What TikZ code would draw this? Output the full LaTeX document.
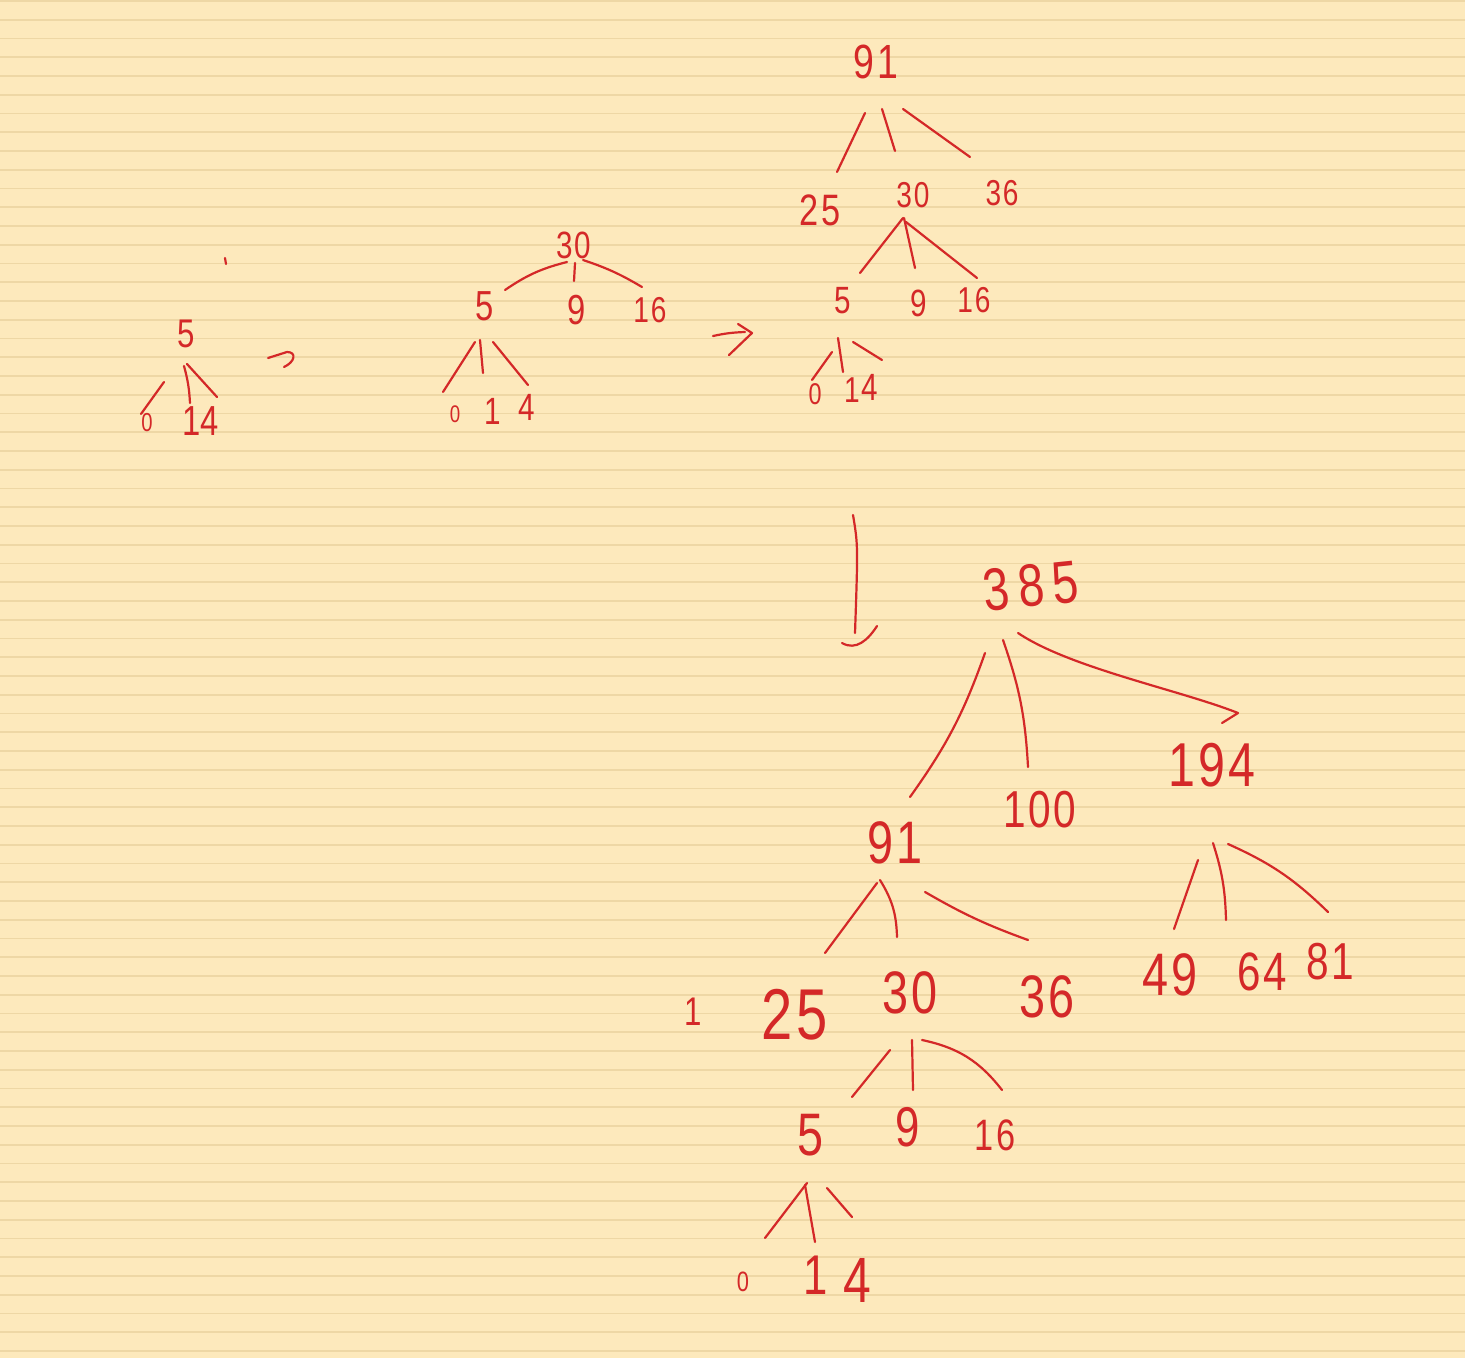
\documentclass[tikz,border=0pt]{standalone}
\usepackage{fontspec}
\newfontfamily\hand[FakeStretch=0.78,LetterSpace=5]{Liberation Sans}
\newfontfamily\handwide[FakeStretch=0.78,LetterSpace=14]{Liberation Sans}
\usetikzlibrary{calc}
\definecolor{paper}{RGB}{253,233,188}
\definecolor{rulecol}{RGB}{238,215,165}
\definecolor{ink}{RGB}{212,40,40}
\begin{document}
\begin{tikzpicture}[x=0.5pt,y=-0.5pt,
  fs/.style={font=\hand\fontsize{#1}{#1}\selectfont},
  num/.style={text=ink,inner sep=0pt},
  edge/.style={draw=ink,line width=1.1pt,line cap=round,line join=round}]
\fill[paper] (0,0) rectangle (1465,1358);
\useasboundingbox (0,0) rectangle (1465,1358);
\foreach \k in {0,...,72} \draw[rulecol,line width=0.8pt] (0,{1+18.75*\k}) -- (1465,{1+18.75*\k});

% ---------- tree 1 ----------
\node[num,fs=20] (a5) at (186,334) {5};
\node[num,fs=13] (a0) at (147,423) {0};
\node[num,fs=21] (a1) at (192,421) {1};
\node[num,fs=21] (a4) at (210,421) {4};
\draw[edge] ($(a5)+(-22,48)$) -- ($(a0)+(-6,-9)$);
\draw[edge] ($(a5)+(-2,32)$) to[bend left=6] ($(a1)+(-2,-18)$);
\draw[edge] ($(a5)+(1,30)$) -- ($(a4)+(7,-24)$);
\coordinate (tk1) at (225,258);
\coordinate (tk2) at (226,264);
\draw[edge] (tk1) -- (tk2);

% arrow 1
\coordinate (r1a) at (268,358);
\coordinate (r1b) at (287,352);
\coordinate (r1c) at (284,367);
\draw[edge] (r1a) -- (r1b) .. controls (297,352) and (295,362) .. (r1c);

% ---------- tree 2 ----------
\node[num,fs=19] (b30) at (574,245) {30};
\node[num,fs=21] (b5) at (485,306) {5};
\node[num,fs=21] (b9) at (577,310) {9};
\node[num,fs=18] (b16) at (650,310) {16};
\node[num,fs=12] (b0) at (455,414) {0};
\node[num,fs=19] (b1) at (493,411) {1};
\node[num,fs=19] (b4) at (527,407) {4};
\draw[edge] ($(b30)+(-7,17)$) to[bend right=10] ($(b5)+(20,-16)$);
\draw[edge] ($(b30)+(1,18)$) -- ($(b9)+(-3,-29)$);
\draw[edge] ($(b30)+(9,15)$) to[bend left=6] ($(b16)+(-8,-23)$);
\draw[edge] ($(b5)+(-10,36)$) -- ($(b0)+(-12,-22)$);
\draw[edge] ($(b5)+(-5,34)$) -- ($(b1)+(-10,-38)$);
\draw[edge] ($(b5)+(8,36)$) -- ($(b4)+(1,-22)$);

% arrow 2
\coordinate (r2a) at (713,336);
\coordinate (r2b) at (745,332);
\coordinate (r2c) at (738,324);
\coordinate (r2d) at (752,333);
\coordinate (r2e) at (729,355);
\draw[edge] (r2a) to[bend left=5] (r2b);
\draw[edge] (r2c) -- (r2d) -- (r2e);

% ---------- tree 3 ----------
\node[num,fs=24] (c91) at (876,62) {91};
\node[num,fs=22] (c25) at (820,210) {25};
\node[num,fs=18] (c30) at (913,195) {30};
\node[num,fs=18] (c36) at (1002,193) {36};
\node[num,fs=19] (c5) at (843,301) {5};
\node[num,fs=19] (c9) at (919,303) {9};
\node[num,fs=18] (c16) at (974,300) {16};
\node[num,fs=15] (c0) at (815,394) {0};
\node[num,fs=18] (c1) at (852,390) {1};
\node[num,fs=19] (c4) at (870,387) {4};
\draw[edge] ($(c91)+(-11,51)$) -- ($(c25)+(17,-38)$);
\draw[edge] ($(c91)+(6,47)$) -- ($(c30)+(-18,-44)$);
\draw[edge] ($(c91)+(27,47)$) -- ($(c36)+(-32,-36)$);
\draw[edge] ($(c30)+(-10,23)$) -- ($(c5)+(17,-28)$);
\draw[edge] ($(c30)+(-9,23)$) -- ($(c9)+(-4,-35)$);
\draw[edge] ($(c30)+(-7,27)$) -- ($(c16)+(3,-22)$);
\draw[edge] ($(c5)+(-11,51)$) -- ($(c0)+(-3,-14)$);
\draw[edge] ($(c5)+(-5,37)$) -- ($(c1)+(-9,-18)$);
\draw[edge] ($(c5)+(10,41)$) -- ($(c4)+(12,-27)$);

% arrow 3 (down)
\coordinate (r3a) at (853,515);
\coordinate (r3b) at (855,633);
\coordinate (r3c) at (842,643);
\coordinate (r3d) at (877,626);
\draw[edge] (r3a) .. controls (858,545) .. (r3b);
\draw[edge] (r3c) .. controls (856,651) and (868,640) .. (r3d);

% ---------- tree 4 ----------
\node[num,font=\handwide\fontsize{30}{30}\selectfont,rotate=6] (d385) at (1031,586) {385};
\node[num,fs=30] (d91) at (895,843) {91};
\node[num,fs=26] (d100) at (1040,810) {100};
\node[num,fs=31] (d194) at (1212,765) {194};
\node[num,fs=20] (d1s) at (693,1012) {1};
\node[num,fs=36] (d25) at (795,1015) {25};
\node[num,fs=30] (d30) at (910,993) {30};
\node[num,fs=30] (d36) at (1047,997) {36};
\node[num,fs=30] (d49) at (1170,975) {49};
\node[num,fs=27] (d64) at (1262,972) {64};
\node[num,fs=26] (d81) at (1330,962) {81};
\node[num,fs=30] (d5) at (811,1135) {5};
\node[num,fs=28] (d9) at (908,1127) {9};
\node[num,fs=22] (d16) at (995,1135) {16};
\node[num,fs=14] (d0) at (743,1282) {0};
\node[num,fs=28] (d1) at (816,1275) {1};
\node[num,fs=32] (d4) at (857,1280) {4};

\draw[edge] ($(d385)+(-46,67)$) to[bend left=8] ($(d91)+(15,-46)$);
\draw[edge] ($(d385)+(-28,54)$) to[bend left=8] ($(d100)+(-12,-43)$);
\draw[edge] ($(d385)+(-13,47)$) .. controls (1070,668) and (1180,690) .. ($(d194)+(26,-52)$) -- ($(d194)+(10,-42)$);
\draw[edge] ($(d91)+(-18,40)$) -- ($(d25)+(30,-62)$);
\draw[edge] ($(d91)+(-15,37)$) to[bend left=15] ($(d30)+(-13,-56)$);
\draw[edge] ($(d91)+(30,49)$) to[bend right=5] ($(d36)+(-19,-57)$);
\draw[edge] ($(d194)+(-14,95)$) -- ($(d49)+(4,-46)$);
\draw[edge] ($(d194)+(1,78)$) to[bend left=8] ($(d64)+(-36,-52)$);
\draw[edge] ($(d194)+(16,79)$) to[bend left=10] ($(d81)+(-2,-50)$);
\draw[edge] ($(d30)+(-20,57)$) -- ($(d5)+(41,-38)$);
\draw[edge] ($(d30)+(2,47)$) -- ($(d9)+(5,-37)$);
\draw[edge] ($(d30)+(12,47)$) to[bend left=20] ($(d16)+(7,-45)$);
\draw[edge] ($(d5)+(-4,48)$) -- ($(d0)+(22,-44)$);
\draw[edge] ($(d5)+(-6,50)$) -- ($(d1)+(-1,-33)$);
\draw[edge] ($(d5)+(16,53)$) -- ($(d4)+(-5,-63)$);
\end{tikzpicture}
\end{document}
